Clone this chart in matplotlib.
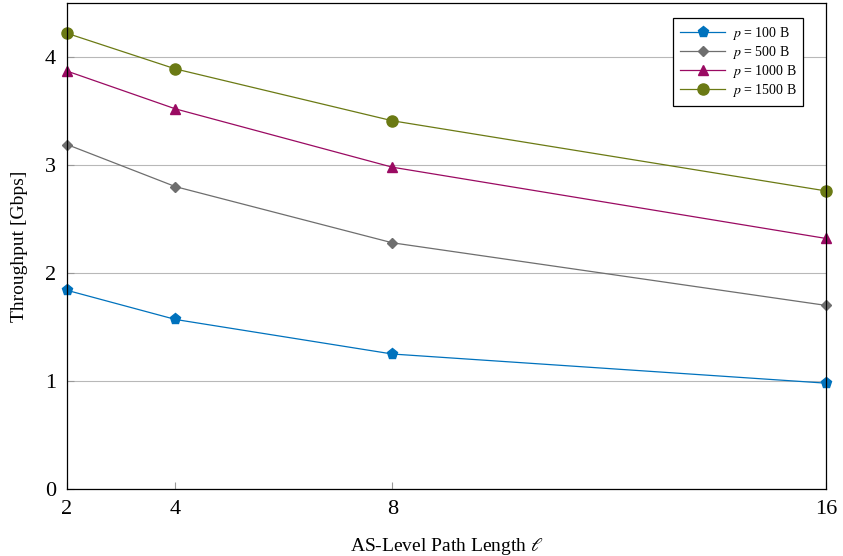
import matplotlib
matplotlib.use("Agg")
import matplotlib.pyplot as plt

path_len = [2, 4, 8, 16]
thr_100 = [1.84, 1.57, 1.25, 0.98]
thr_500 = [3.19, 2.80, 2.28, 1.70]
thr_1000 = [3.87, 3.52, 2.98, 2.32]
thr_1500 = [4.22, 3.89, 3.41, 2.76]
labels = [r"$p$ = 100 B", r"$p$ = 500 B", r"$p$ = 1000 B", r"$p$ = 1500 B"]

plt.rcParams["font.family"] = ["Liberation Serif", "DejaVu Serif"]
plt.rcParams["mathtext.fontset"] = "stix"

fig = plt.figure(figsize=(8.43, 5.56), dpi=100)
ax = fig.add_axes([0.0795, 0.1205, 0.9005, 0.874])

series = [
    (thr_100, "#0072bd", "p", 8),
    (thr_500, "#6e6e6e", "D", 5),
    (thr_1000, "#9a0a62", "^", 7),
    (thr_1500, "#6b7a14", "o", 8),
]
for (vals, col, mk, ms), lab in zip(series, labels):
    ax.plot(path_len, vals, color=col, marker=mk, markersize=ms, lw=0.9,
            label=lab, clip_on=False, zorder=3)

ax.set_xlim(2, 16)
ax.set_ylim(0, 4.5)
ax.set_xticks(path_len)
ax.set_yticks([0, 1, 2, 3, 4])
ax.yaxis.grid(True, color="#b8b8b8", lw=0.8)
ax.set_axisbelow(True)
ax.tick_params(direction="in", labelsize=16, color="#999999", length=5)
ax.tick_params(axis="x", pad=8)
ax.tick_params(axis="y", pad=8)
for s in ax.spines.values():
    s.set_linewidth(0.9)
    s.set_zorder(4)

ax.set_xlabel(r"AS-Level Path Length $\ell$", fontsize=14, labelpad=12)
ax.set_ylabel("Throughput [Gbps]", fontsize=14, labelpad=12)

leg = ax.legend(loc="upper right", fontsize=10, fancybox=False,
                edgecolor="black", framealpha=1, handlelength=3.2,
                handletextpad=0.5, bbox_to_anchor=(0.970, 0.969),
                borderaxespad=0, labelspacing=0.15, borderpad=0.5)
leg.get_frame().set_linewidth(0.9)

fig.savefig("out.png", dpi=100)
